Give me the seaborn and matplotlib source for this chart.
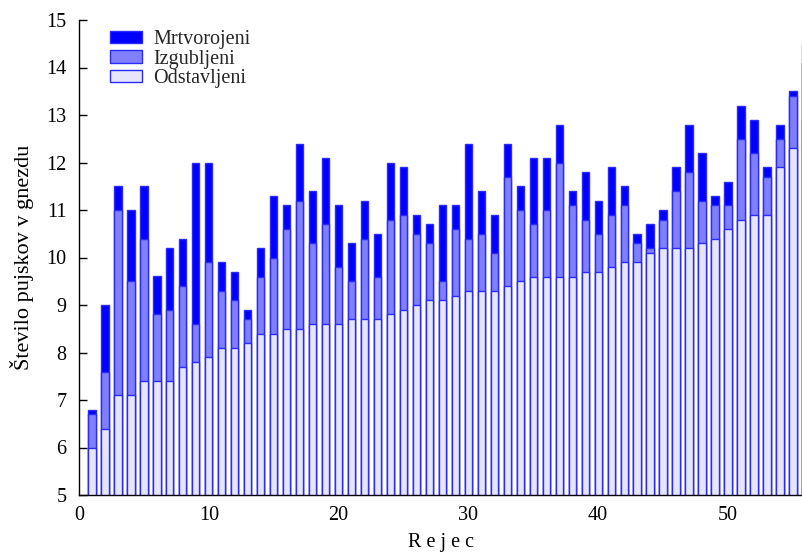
import numpy as np
import pandas as pd
import matplotlib
matplotlib.use("Agg")
import matplotlib.pyplot as plt
from matplotlib.patches import Patch
import seaborn as sns

# Število pujskov v gnezdu po rejcih: odstavljeni, izgubljeni, mrtvorojeni
rejec = list(range(1, 57))
odstavljeni = [6.0, 6.4, 7.1, 7.1, 7.4, 7.4, 7.4, 7.7, 7.8, 7.9,
               8.1, 8.1, 8.2, 8.4, 8.4, 8.5, 8.5, 8.6, 8.6, 8.6,
               8.7, 8.7, 8.7, 8.8, 8.9, 9.0, 9.1, 9.1, 9.2, 9.3,
               9.3, 9.3, 9.4, 9.5, 9.6, 9.6, 9.6, 9.6, 9.7, 9.7,
               9.8, 9.9, 9.9, 10.1, 10.2, 10.2, 10.2, 10.3, 10.4, 10.6,
               10.8, 10.9, 10.9, 11.9, 12.3, 12.9]
izgubljeni = [0.7, 1.2, 3.9, 2.4, 3.0, 1.4, 1.5, 1.7, 0.8, 2.0,
              1.2, 1.0, 0.5, 1.2, 1.6, 2.1, 2.7, 1.7, 2.1, 1.2,
              0.8, 1.7, 0.9, 2.0, 2.0, 1.5, 1.2, 0.4, 1.4, 1.1,
              1.2, 0.8, 2.3, 1.5, 1.1, 1.4, 2.4, 1.5, 1.1, 0.8,
              1.1, 1.2, 0.4, 0.1, 0.6, 1.2, 1.6, 0.9, 0.7, 0.5,
              1.7, 1.3, 0.8, 0.6, 1.1, 1.2]
mrtvorojeni = [0.1, 1.4, 0.5, 1.5, 1.1, 0.8, 1.3, 1.0, 3.4, 2.1,
               0.6, 0.6, 0.2, 0.6, 1.3, 0.5, 1.2, 1.1, 1.4, 1.3,
               0.8, 0.8, 0.9, 1.2, 1.0, 0.4, 0.4, 1.6, 0.5, 2.0,
               0.9, 0.8, 0.7, 0.5, 1.4, 1.1, 0.8, 0.3, 1.0, 0.7,
               1.0, 0.4, 0.2, 0.5, 0.2, 0.5, 1.0, 1.0, 0.2, 0.5,
               0.7, 0.7, 0.2, 0.3, 0.1, 0.4]
y_ticks = list(range(5, 16))
x_ticks = [0, 10, 20, 30, 40, 50]

df = pd.DataFrame({"rejec": rejec,
                   "Odstavljeni": odstavljeni,
                   "Izgubljeni": izgubljeni,
                   "Mrtvorojeni": mrtvorojeni})
df["do_izgubljeni"] = df["Odstavljeni"] + df["Izgubljeni"]
df["skupaj"] = df["do_izgubljeni"] + df["Mrtvorojeni"]

sns.set_theme(style="white")
plt.rcParams["font.family"] = ["Liberation Serif", "DejaVu Serif"]
plt.rcParams["font.size"] = 14.5

c_mrtvo = "#0000ff"
c_izgub = "#8080ff"
c_odst = "#e6e6fb"
c_edge = "#2a2aff"

fig = plt.figure(figsize=(8.03, 5.56), dpi=100)
ax = fig.add_axes([79 / 803, 61 / 556, (803 - 79) / 803, 475 / 556])

# Stacked bars drawn as overlapping cumulative layers
for col, color in [("skupaj", c_mrtvo), ("do_izgubljeni", c_izgub), ("Odstavljeni", c_odst)]:
    sns.barplot(data=df, x="rejec", y=col, native_scale=True, width=0.56,
                color=color, saturation=1, edgecolor=c_edge, linewidth=1.0,
                errorbar=None, ax=ax)

ax.set_xlim(0, 55.78)
ax.set_ylim(5, 15)
ax.set_xticks(x_ticks)
ax.set_yticks(y_ticks)
ax.tick_params(axis="y", left=True, direction="in", length=6, width=1, color="black",
               labelsize=14.5, labelcolor="black", pad=9)
ax.tick_params(axis="x", bottom=True, length=0, labelsize=14.5, labelcolor="black", pad=8)
for s in ["top", "right"]:
    ax.spines[s].set_visible(False)
for s in ["left", "bottom"]:
    ax.spines[s].set_color("black")
    ax.spines[s].set_linewidth(1.0)
    ax.spines[s].set_zorder(5)

ax.set_xlabel("R e j e c", fontsize=14.5, color="black", labelpad=6)
ax.set_ylabel("Število pujskov v gnezdu", fontsize=16, color="black", labelpad=9)

handles = [Patch(facecolor=c_mrtvo, edgecolor=c_edge, label="Mrtvorojeni"),
           Patch(facecolor=c_izgub, edgecolor=c_edge, label="Izgubljeni"),
           Patch(facecolor=c_odst, edgecolor=c_edge, label="Odstavljeni")]
ax.legend(handles=handles, loc="upper left", bbox_to_anchor=(98 / 803, 1 - 18 / 556),
          bbox_transform=fig.transFigure, frameon=False, fontsize=14.5,
          handlelength=1.6, handleheight=0.55, handletextpad=0.55,
          labelspacing=0.03, borderpad=0.1)

fig.savefig("out.png", dpi=100)
